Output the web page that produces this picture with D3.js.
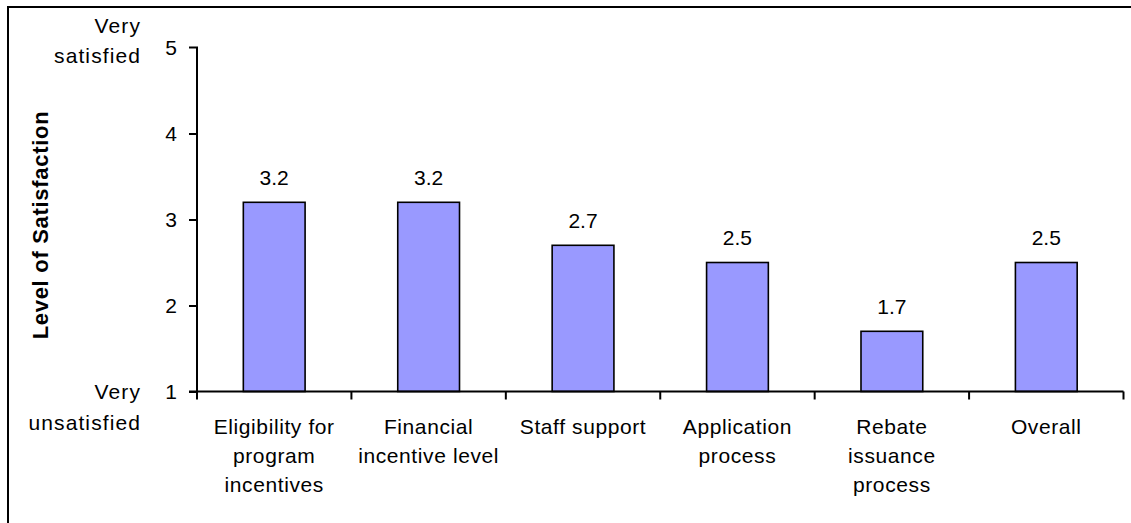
<!DOCTYPE html>
<html>
<head>
<meta charset="utf-8">
<script src="https://cdn.jsdelivr.net/npm/d3@7"></script>
<style>
  html, body { margin: 0; padding: 0; background: #fff; }
  svg { display: block; font-family: "Liberation Sans", Arial, sans-serif; }
</style>
</head>
<body>
<svg id="chart" width="1131" height="523"></svg>
<script>
// Satisfaction ratings by program aspect (1 = very unsatisfied, 5 = very satisfied)
const categories = [
  ["Eligibility for", "program", "incentives"],
  ["Financial", "incentive level"],
  ["Staff support"],
  ["Application", "process"],
  ["Rebate", "issuance", "process"],
  ["Overall"]
];
const values = [3.2, 3.2, 2.7, 2.5, 1.7, 2.5];
const yTicks = [1, 2, 3, 4, 5];
const topLabel = ["Very", "satisfied"];
const bottomLabel = ["Very", "unsatisfied"];
const yTitle = "Level of Satisfaction";

const svg = d3.select("#chart");
const W = 1131, H = 523;
const FS = 21;

// Outer frame (runs off the right and bottom edges)
svg.append("rect")
  .attr("x", 8).attr("y", 7)
  .attr("width", W + 10).attr("height", H + 10)
  .attr("fill", "none").attr("stroke", "#000").attr("stroke-width", 2);

const plot = { left: 197, right: 1123.5, top: 47.5, bottom: 391.5 };
const keys = categories.map((c, i) => i);

const x = d3.scaleBand().domain(keys).range([plot.left, plot.right]).paddingInner(0).paddingOuter(0);
const y = d3.scaleLinear().domain([1, 5]).range([plot.bottom, plot.top]);
const barW = x.bandwidth() * 0.4;

// Bars
svg.append("g").selectAll("rect").data(values).join("rect")
  .attr("x", (d, i) => x(i) + (x.bandwidth() - barW) / 2)
  .attr("y", d => y(d))
  .attr("width", barW)
  .attr("height", d => y(1) - y(d))
  .attr("fill", "#9999FF")
  .attr("stroke", "#000")
  .attr("stroke-width", 1.6);

// Value labels
svg.append("g").selectAll("text").data(values).join("text")
  .attr("x", (d, i) => x(i) + x.bandwidth() / 2)
  .attr("y", d => y(d) - 17.5)
  .attr("text-anchor", "middle")
  .attr("font-size", FS)
  .attr("fill", "#000")
  .text(d => d.toFixed(1));

// Y axis
const yAxis = d3.axisLeft(y).tickValues(yTicks).tickFormat(d3.format("d")).tickSize(8).tickPadding(12);
const gy = svg.append("g").attr("transform", `translate(${plot.left},0)`).call(yAxis);
gy.select(".domain").attr("stroke", "#000").attr("stroke-width", 2).attr("d", `M-8,${plot.top}H0V${plot.bottom}`);
gy.selectAll(".tick line").attr("stroke", "#000").attr("stroke-width", 2);
gy.selectAll(".tick text").attr("font-size", FS).attr("fill", "#000")
  .attr("font-family", "Liberation Sans, Arial, sans-serif");
gy.selectAll(".tick").filter(d => d === 5).select("line").remove();

// X axis with ticks at category boundaries
const xAxisG = svg.append("g").attr("transform", `translate(0,${plot.bottom})`);
xAxisG.append("line")
  .attr("x1", plot.left - 8).attr("x2", plot.right)
  .attr("y1", 0).attr("y2", 0)
  .attr("stroke", "#000").attr("stroke-width", 2);
const bounds = keys.map(k => x(k)).concat([plot.right]);
xAxisG.selectAll("line.tk").data(bounds).join("line")
  .attr("class", "tk")
  .attr("x1", d => d).attr("x2", d => d)
  .attr("y1", 0).attr("y2", 8)
  .attr("stroke", "#000").attr("stroke-width", 2);

// Category labels
const catG = svg.append("g").selectAll("text").data(categories).join("text")
  .attr("text-anchor", "middle")
  .attr("font-size", FS)
  .attr("letter-spacing", 0.6)
  .attr("fill", "#000");
catG.each(function(lines, i) {
  const t = d3.select(this);
  lines.forEach((ln, j) => {
    t.append("tspan")
      .attr("x", x(i) + x.bandwidth() / 2)
      .attr("y", 434 + j * 29)
      .text(ln);
  });
});

// End labels on the y axis
function endLabel(lines, baseY, lh) {
  const t = svg.append("text")
    .attr("text-anchor", "end")
    .attr("font-size", FS)
    .attr("letter-spacing", 1.1)
    .attr("fill", "#000");
  lines.forEach((ln, j) => {
    t.append("tspan").attr("x", 141).attr("y", baseY + j * lh).text(ln);
  });
}
endLabel(topLabel, 33, 30);
endLabel(bottomLabel, 398.5, 31.5);

// Y axis title
svg.append("text")
  .attr("transform", `translate(48,${(110 + 340) / 2}) rotate(-90)`)
  .attr("text-anchor", "middle")
  .attr("font-size", 22)
  .attr("font-weight", "bold")
  .attr("letter-spacing", 0.7)
  .attr("fill", "#000")
  .text(yTitle);
</script>
</body>
</html>
